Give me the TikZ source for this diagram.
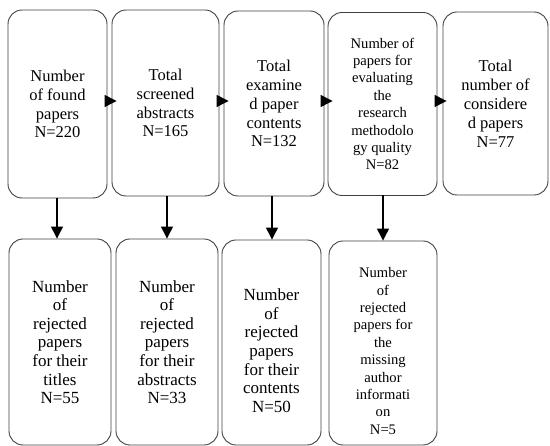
\documentclass[tikz,border=0pt]{standalone}
\usepackage{fontspec}
\setmainfont{Liberation Serif}
\newfontfamily\tms{Liberation Serif}
\usetikzlibrary{arrows.meta}
\tikzset{
  box/.style={draw=black!75, line width=0.9pt, rounded corners=14pt, align=center, inner sep=0pt},
  big/.style={font=\tms\fontsize{16.5}{18.9}\selectfont},
  mid/.style={font=\tms\fontsize{17}{18.6}\selectfont},
  small/.style={font=\tms\fontsize{14.6}{17.4}\selectfont},
  conn/.style={line width=1.3pt, -{Triangle[length=12pt,width=12pt]}},
}
\begin{document}
\begin{tikzpicture}[x=1pt,y=-1pt]
\useasboundingbox (0,0) rectangle (550,446);
% top row
\node[box,big,minimum width=99pt,minimum height=188pt] (b1) at (57.5,104) {Number\\of found\\papers\\N=220};
\node[box,big,minimum width=107pt,minimum height=186pt] (b2) at (165.5,103) {Total\\screened\\abstracts\\N=165};
\node[box,big,minimum width=100pt,minimum height=185pt] (b3) at (274,103.5) {Total\\examine\\d paper\\contents\\N=132};
\node[box,small,minimum width=109pt,minimum height=183pt] (b4) at (382.5,104) {Number of\\papers for\\evaluating\\the\\research\\methodolo\\gy quality\\N=82};
\node[box,big,minimum width=105pt,minimum height=183pt] (b5) at (495.5,103.5) {Total\\number of\\considere\\d papers\\N=77};
% bottom row
\node[box,mid,minimum width=102pt,minimum height=206pt] (c1) at (60,342) {Number\\of\\rejected\\papers\\for their\\titles\\N=55};
\node[box,mid,minimum width=102pt,minimum height=206pt] (c2) at (167,342) {Number\\of\\rejected\\papers\\for their\\abstracts\\N=33};
\node[box,mid,minimum width=99pt,minimum height=205pt] (c3) at (271.5,342.5) {\rule{0pt}{28pt}Number\\of\\rejected\\papers\\for their\\contents\\N=50};
\node[box,small,minimum width=108pt,minimum height=204pt] (c4) at (383,343) {\rule{0pt}{26pt}Number\\of\\rejected\\papers for\\the\\missing\\author\\informati\\on\\N=5};
% horizontal connectors
\coordinate (hy) at (0,101);
\draw[conn] (b1.east |- hy) -- ([xshift=5pt]b2.west |- hy);
\draw[conn] (b2.east |- hy) -- ([xshift=5pt]b3.west |- hy);
\draw[conn] (b3.east |- hy) -- ([xshift=5pt]b4.west |- hy);
\draw[conn] (b4.east |- hy) -- ([xshift=4pt]b5.west |- hy);
% vertical connectors
\draw[conn] (57,198) coordinate (v1) -- (v1 |- c1.north);
\draw[conn] (167,196) coordinate (v2) -- (v2 |- c2.north);
\draw[conn] (272,196) coordinate (v3) -- (v3 |- c3.north);
\draw[conn] (383,195) coordinate (v4) -- (v4 |- c4.north);
\end{tikzpicture}
\end{document}
